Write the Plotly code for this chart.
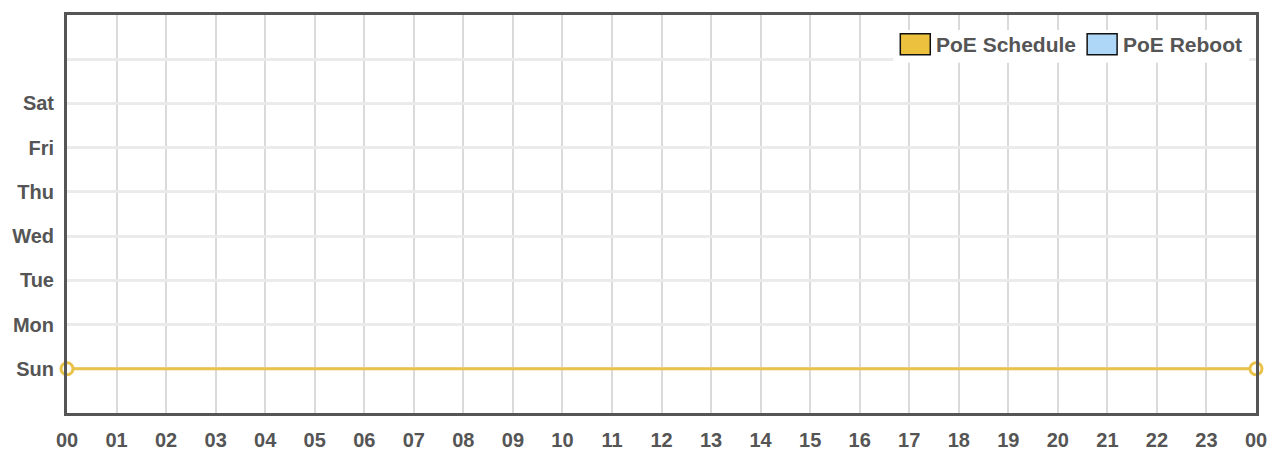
import plotly.graph_objects as go

# axis labels
hour_labels = ['00', '01', '02', '03', '04', '05', '06', '07', '08', '09', '10', '11',
               '12', '13', '14', '15', '16', '17', '18', '19', '20', '21', '22', '23', '00']
day_labels = ['Sun', 'Mon', 'Tue', 'Wed', 'Thu', 'Fri', 'Sat', '']

# PoE schedule segment (hour start/end, day index)
schedule_hours = [0, 24]
schedule_days = [0, 0]

series_names = ['PoE Schedule', 'PoE Reboot']
series_colors = ['#EBC13D', '#AED6F6']

W, H = 1276, 450
OFF = 8  # page body margin
# plot area in page pixels: x 66..1256, y 12..413
L, T = 66 - OFF, 12 - OFF
R, B = W - (1256 - OFF), H - (413 - OFF)
pw, ph = W - L - R, H - T - B


def px_x(x):
    return (x - OFF - L) / pw


def px_y(y):
    return 1 - (y - OFF - T) / ph


FONT = 'Liberation Sans, Arial'

fig = go.Figure()

fig.add_trace(go.Scatter(
    x=schedule_hours,
    y=schedule_days,
    mode='lines+markers',
    line=dict(color='#E9C24A', width=3),
    marker=dict(symbol='circle', size=12, color='white',
                line=dict(color='#E9C24A', width=3)),
    cliponaxis=False,
    showlegend=False,
    hoverinfo='skip',
))

# legend drawn by hand (boxes with black outline)
shapes = [dict(type='rect', xref='paper', yref='paper', layer='above',
               x0=px_x(893), x1=px_x(1249), y0=px_y(60), y1=px_y(27),
               fillcolor='white', line=dict(width=0))]
annotations = []
box_left = [900, 1087]
for name, color, bx in zip(series_names, series_colors, box_left):
    shapes.append(dict(type='rect', xref='paper', yref='paper', layer='above',
                       x0=px_x(bx), x1=px_x(bx + 30), y0=px_y(52), y1=px_y(31),
                       fillcolor=color, line=dict(color='#111', width=1.5)))
    annotations.append(dict(xref='paper', yref='paper', x=px_x(bx + 34), y=px_y(42),
                            xanchor='left', yanchor='middle', text=name, showarrow=False,
                            font=dict(family=FONT, size=21, color='#555', weight='bold')))

fig.update_xaxes(
    range=[0, 24],
    tickmode='array',
    tickvals=list(range(len(hour_labels))),
    ticktext=hour_labels,
    showgrid=True, gridcolor='#DADADA', gridwidth=1.5,
    showline=True, mirror=True, linecolor='#555', linewidth=3,
    ticks='', ticklabelstandoff=7,
    zeroline=False,
    tickfont=dict(family=FONT, size=20, color='#555', weight='bold'),
)
fig.update_yaxes(
    range=[-1, 8],
    tickmode='array',
    tickvals=list(range(len(day_labels))),
    ticktext=day_labels,
    showgrid=True, gridcolor='#EBEBEB', gridwidth=3,
    showline=True, mirror=True, linecolor='#555', linewidth=3,
    ticks='', ticklabelstandoff=6,
    zeroline=False,
    tickfont=dict(family=FONT, size=20, color='#555', weight='bold'),
)

fig.update_layout(
    width=W, height=H,
    margin=dict(l=L, r=R, t=T, b=B),
    plot_bgcolor='white', paper_bgcolor='white',
    shapes=shapes,
    annotations=annotations,
    showlegend=False,
)

fig.write_html("out.html")
